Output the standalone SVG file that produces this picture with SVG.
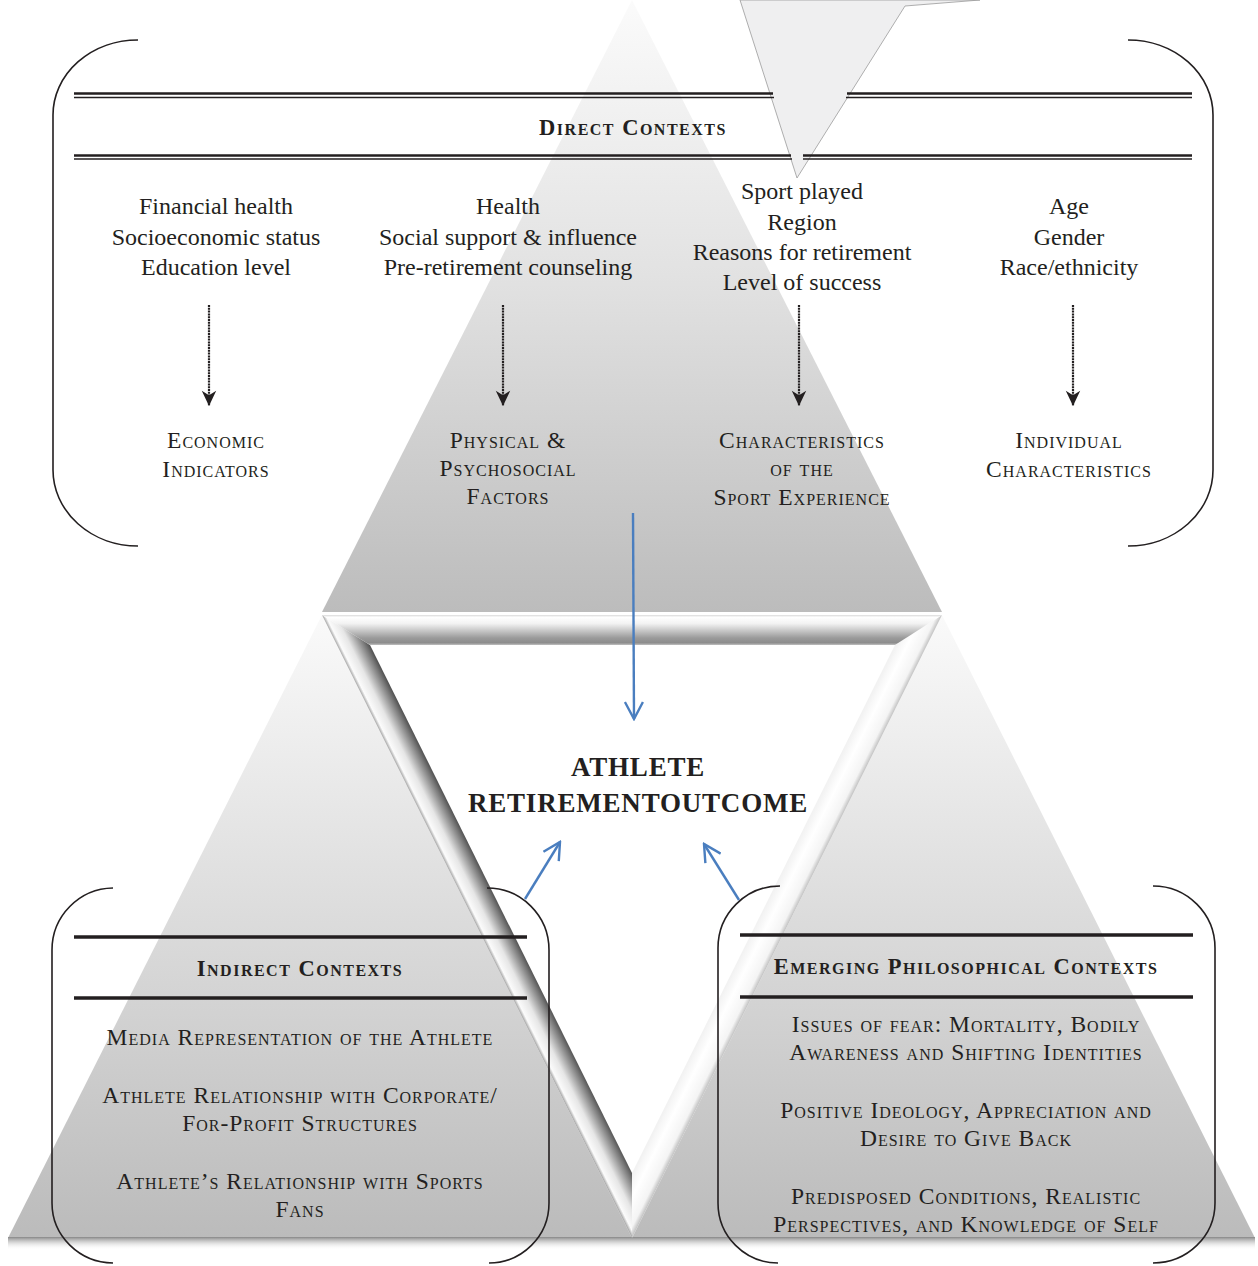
<svg xmlns="http://www.w3.org/2000/svg" width="1258" height="1266" viewBox="0 0 1258 1266">
<defs>
<linearGradient id="gTop" gradientUnits="userSpaceOnUse" x1="0" y1="0" x2="0" y2="612">
<stop offset="0" stop-color="#fbfbfb"/><stop offset="0.45" stop-color="#e2e2e2"/><stop offset="1" stop-color="#bcbcbc"/>
</linearGradient>
<linearGradient id="gBot" gradientUnits="userSpaceOnUse" x1="0" y1="615" x2="0" y2="1238">
<stop offset="0" stop-color="#fafafa"/><stop offset="0.45" stop-color="#dedede"/><stop offset="1" stop-color="#bbbbbb"/>
</linearGradient>
<linearGradient id="gBar" gradientUnits="userSpaceOnUse" x1="0" y1="614" x2="0" y2="646">
<stop offset="0" stop-color="#c8c8c8"/><stop offset="0.1" stop-color="#ffffff"/><stop offset="0.3" stop-color="#f2f2f2"/><stop offset="0.75" stop-color="#9a9a9a"/><stop offset="0.9" stop-color="#8c8c8c"/><stop offset="1" stop-color="#d8d8d8"/>
</linearGradient>
<linearGradient id="gLeft" gradientUnits="userSpaceOnUse" x1="477" y1="926" x2="503.5" y2="912.8">
<stop offset="0" stop-color="#aaaaaa"/><stop offset="0.1" stop-color="#fbfbfb"/><stop offset="0.4" stop-color="#e6e6e6"/><stop offset="0.85" stop-color="#777777"/><stop offset="1" stop-color="#4e4e4e"/>
</linearGradient>
<linearGradient id="gRight" gradientUnits="userSpaceOnUse" x1="787" y1="926" x2="760.5" y2="912.8">
<stop offset="0" stop-color="#c4c4c4"/><stop offset="0.15" stop-color="#f4f4f4"/><stop offset="0.6" stop-color="#ffffff"/><stop offset="1" stop-color="#f0f0f0"/>
</linearGradient>
<linearGradient id="gShadow" gradientUnits="userSpaceOnUse" x1="0" y1="1237" x2="0" y2="1250">
<stop offset="0" stop-color="#8a8a8a"/><stop offset="1" stop-color="#ffffff" stop-opacity="0"/>
</linearGradient>
<marker id="blueHead" viewBox="0 0 20 20" refX="18" refY="10" markerWidth="20" markerHeight="20" markerUnits="userSpaceOnUse" orient="auto">
<path d="M1,1 L18,10 L1,19" fill="none" stroke="#4a7ebf" stroke-width="2.4"/>
</marker>
<marker id="blackHead" viewBox="0 0 20 20" refX="19" refY="10" markerWidth="18" markerHeight="18" markerUnits="userSpaceOnUse" orient="auto">
<path d="M19,10 L2,2 L7,10 L2,18 Z" fill="#231f20"/>
</marker>
</defs>
<style>
.t{font-family:"Liberation Serif","Times New Roman",serif;fill:#231f20;text-anchor:middle}
.plain{font-size:24px}
.sc{font-size:23.5px;font-variant:small-caps;letter-spacing:1px}
.hd{font-size:22.5px;font-weight:bold;font-variant:small-caps;letter-spacing:1.5px}
.big{font-size:27px;font-weight:bold;letter-spacing:0.8px}
.br{fill:none;stroke:#231f20;stroke-width:1.6}
.rule{stroke:#231f20}
.dot{fill:none;stroke:#231f20;stroke-width:2.2;stroke-dasharray:2 0.8}
.blue{fill:none;stroke:#4a7ebf;stroke-width:2.4}
</style>
<rect width="1258" height="1266" fill="#ffffff"/>
<g id="background">
<polygon points="632,0 322,612 942,612" fill="url(#gTop)"/>
<polygon points="322,615 8,1238 632,1238" fill="url(#gBot)"/>
<polygon points="942,615 632,1238 1255,1238" fill="url(#gBot)"/>
<rect x="8" y="1237" width="1247" height="13" fill="url(#gShadow)"/>
<polygon points="370,645 895,645 632,1173" fill="#ffffff"/>
<polygon points="322,615 370,645 632,1173 632,1238" fill="url(#gLeft)"/>
<polygon points="942,615 895,645 632,1173 632,1238" fill="url(#gRight)"/>
<polygon points="322,615 942,615 895,645 370,645" fill="url(#gBar)"/>
<polygon points="740,0 797,178 905,6 980,0" fill="#efeff0" stroke="#9a9a9a" stroke-width="0.8"/>
</g>
<g id="direct-contexts">
<path class="br" d="M138,40 A85,75 0 0 0 53,115 L53,470 A85,76 0 0 0 138,546"/>
<path class="br" d="M1128,40 A85,75 0 0 1 1213,115 L1213,470 A85,76 0 0 1 1128,546"/>
<line class="rule" x1="74" y1="93.5" x2="773" y2="93.5" stroke-width="2.6"/>
<line class="rule" x1="74" y1="97.5" x2="774" y2="97.5" stroke-width="1.4"/>
<line class="rule" x1="847" y1="93.5" x2="1192" y2="93.5" stroke-width="2.6"/>
<line class="rule" x1="846" y1="97.5" x2="1192" y2="97.5" stroke-width="1.4"/>
<line class="rule" x1="74" y1="155.5" x2="791" y2="155.5" stroke-width="2.6"/>
<line class="rule" x1="74" y1="159" x2="792" y2="159" stroke-width="1.4"/>
<line class="rule" x1="803" y1="155.5" x2="1192" y2="155.5" stroke-width="2.6"/>
<line class="rule" x1="803" y1="159" x2="1192" y2="159" stroke-width="1.4"/>
<text class="t hd" x="633" y="135">Direct Contexts</text>
</g>
<g id="col-economic">
<text class="t plain" x="216" y="214">Financial health</text>
<text class="t plain" x="216" y="245">Socioeconomic status</text>
<text class="t plain" x="216" y="275">Education level</text>
<text class="t sc" x="216" y="448">Economic</text>
<text class="t sc" x="216" y="477">Indicators</text>
</g>
<g id="col-physical">
<text class="t plain" x="508" y="214">Health</text>
<text class="t plain" x="508" y="245">Social support &amp; influence</text>
<text class="t plain" x="508" y="275">Pre-retirement counseling</text>
<text class="t sc" x="508" y="448">Physical &amp;</text>
<text class="t sc" x="508" y="476">Psychosocial</text>
<text class="t sc" x="508" y="504">Factors</text>
</g>
<g id="col-sport">
<text class="t plain" x="802" y="199">Sport played</text>
<text class="t plain" x="802" y="230">Region</text>
<text class="t plain" x="802" y="260">Reasons for retirement</text>
<text class="t plain" x="802" y="290">Level of success</text>
<text class="t sc" x="802" y="448">Characteristics</text>
<text class="t sc" x="802" y="476">of the</text>
<text class="t sc" x="802" y="505">Sport Experience</text>
</g>
<g id="col-individual">
<text class="t plain" x="1069" y="214">Age</text>
<text class="t plain" x="1069" y="245">Gender</text>
<text class="t plain" x="1069" y="275">Race/ethnicity</text>
<text class="t sc" x="1069" y="448">Individual</text>
<text class="t sc" x="1069" y="477">Characteristics</text>
</g>
<g id="outcome">
<text class="t big" x="638" y="776">ATHLETE</text>
<text class="t big" x="638" y="812">RETIREMENTOUTCOME</text>
</g>
<g id="indirect-contexts">
<path class="br" d="M113,888 A62,62 0 0 0 52,950 L52,1203 A62,60 0 0 0 113,1263"/>
<path class="br" d="M487,888 A62,62 0 0 1 549,950 L549,1203 A60,60 0 0 1 489,1263"/>
<line class="rule" x1="74" y1="937" x2="527" y2="937" stroke-width="3.4"/>
<line class="rule" x1="74" y1="998" x2="527" y2="998" stroke-width="3.4"/>
<text class="t hd" x="300" y="976">Indirect Contexts</text>
<text class="t sc" x="300" y="1045">Media Representation of the Athlete</text>
<text class="t sc" x="300" y="1103">Athlete Relationship with Corporate/</text>
<text class="t sc" x="300" y="1131">For-Profit Structures</text>
<text class="t sc" x="300" y="1189">Athlete’s Relationship with Sports</text>
<text class="t sc" x="300" y="1217">Fans</text>
</g>
<g id="emerging-contexts">
<path class="br" d="M780,886 A62,62 0 0 0 718,948 L718,1203 A60,60 0 0 0 778,1263"/>
<path class="br" d="M1153,886 A62,62 0 0 1 1215,948 L1215,1203 A62,60 0 0 1 1153,1263"/>
<line class="rule" x1="740" y1="935" x2="1193" y2="935" stroke-width="3.4"/>
<line class="rule" x1="740" y1="997" x2="1193" y2="997" stroke-width="3.4"/>
<text class="t hd" x="966" y="974">Emerging Philosophical Contexts</text>
<text class="t sc" x="966" y="1032">Issues of fear: Mortality, Bodily</text>
<text class="t sc" x="966" y="1060">Awareness and Shifting Identities</text>
<text class="t sc" x="966" y="1118">Positive Ideology, Appreciation and</text>
<text class="t sc" x="966" y="1146">Desire to Give Back</text>
<text class="t sc" x="966" y="1204">Predisposed Conditions, Realistic</text>
<text class="t sc" x="966" y="1232">Perspectives, and Knowledge of Self</text>
</g>
<g id="connectors">
<line class="dot" x1="209" y1="305" x2="209" y2="406" marker-end="url(#blackHead)"/>
<line class="dot" x1="503" y1="305" x2="503" y2="406" marker-end="url(#blackHead)"/>
<line class="dot" x1="799" y1="305" x2="799" y2="406" marker-end="url(#blackHead)"/>
<line class="dot" x1="1073" y1="305" x2="1073" y2="406" marker-end="url(#blackHead)"/>
<line class="blue" x1="633" y1="513" x2="634" y2="719" marker-end="url(#blueHead)"/>
<line class="blue" x1="525" y1="899" x2="560" y2="842" marker-end="url(#blueHead)"/>
<line class="blue" x1="739" y1="900" x2="704" y2="844" marker-end="url(#blueHead)"/>
</g>
</svg>
